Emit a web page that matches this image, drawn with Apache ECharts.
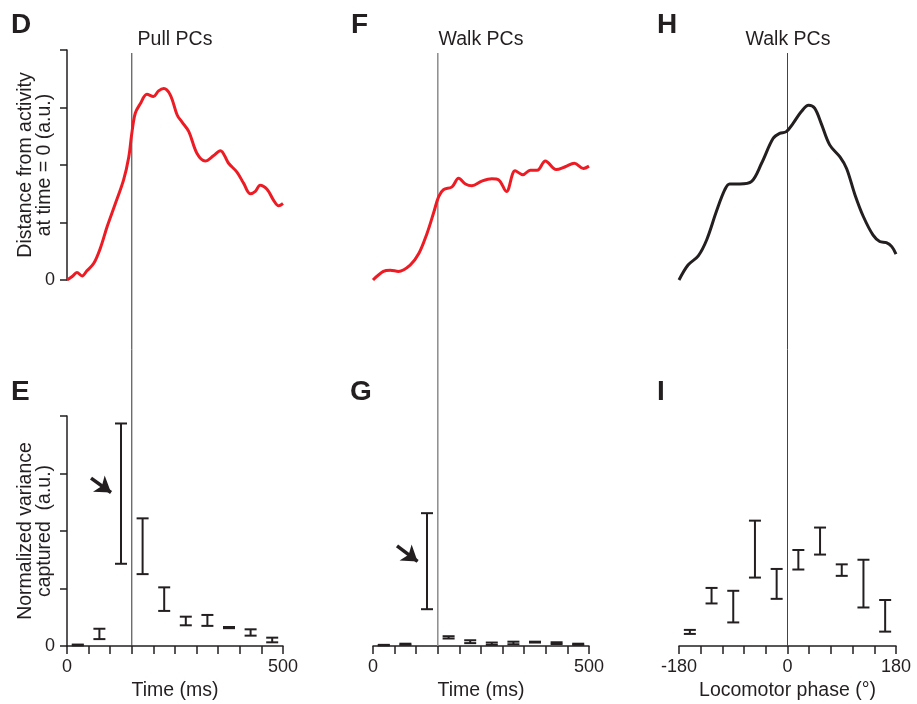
<!DOCTYPE html>
<html>
<head>
<meta charset="utf-8">
<script src="https://cdn.jsdelivr.net/npm/echarts@6/dist/echarts.min.js"></script>
<style>
  html, body { margin: 0; padding: 0; background: #fff; }
  #chart { width: 917px; height: 704px; }
</style>
</head>
<body>
<div id="chart"></div>
<script>
// D: Pull PCs, distance from activity at time = 0
const pullTime = [0,12,23,35,46,62,77,93,112,131,143,150,158,170,185,200,212,224,239,255,266,282,301,320,339,355,374,393,409,424,436,447,463,478,490,500];
const pullDist = [0,0.06,0.13,0.07,0.16,0.29,0.55,0.93,1.33,1.74,2.14,2.55,2.90,3.07,3.23,3.19,3.29,3.33,3.22,2.87,2.75,2.58,2.20,2.07,2.16,2.25,2.03,1.88,1.68,1.50,1.54,1.65,1.58,1.39,1.29,1.33];

// F: Walk PCs over time
const walkTime = [0,24,40,59,86,106,125,140,152,163,183,198,214,229,252,275,291,309,329,347,364,380,399,424,445,466,487,500];
const walkDist = [0,0.15,0.17,0.15,0.26,0.46,0.81,1.16,1.45,1.57,1.62,1.77,1.67,1.64,1.72,1.76,1.74,1.54,1.90,1.83,1.91,1.91,2.07,1.92,1.97,2.03,1.94,1.98];

// H: Walk PCs over locomotor phase
const phase = [-180,-165,-148,-134,-118,-104,-96,-79,-60,-43,-24,-13,-2,9,23,35,45,56,70,87,98,112,126,142,153,164,173,180];
const phaseDist = [0,0.26,0.42,0.70,1.19,1.57,1.67,1.67,1.71,2.03,2.46,2.55,2.58,2.72,2.93,3.04,2.99,2.72,2.35,2.14,1.94,1.48,1.10,0.78,0.67,0.65,0.58,0.45];

// E / G: variance captured per 50 ms bin (low, high)
const timeBins = [25,75,125,175,225,275,325,375,425,475];
const pullVarLow  = [0.010,0.12,1.43,1.25,0.61,0.36,0.35,0.31,0.18,0.064];
const pullVarHigh = [0.025,0.30,3.87,2.22,1.02,0.51,0.54,0.33,0.29,0.145];
const walkVarLow  = [0.010,0.020,0.64,0.13,0.05,0.02,0.03,0.06,0.035,0.02];
const walkVarHigh = [0.020,0.040,2.31,0.17,0.10,0.06,0.075,0.075,0.065,0.04];

// I: variance captured per phase bin
const phaseBins = [-162,-126,-90,-54,-18,18,54,90,126,162];
const phaseVarLow  = [0.21,0.74,0.41,1.19,0.82,1.33,1.59,1.22,0.67,0.25];
const phaseVarHigh = [0.28,1.01,0.96,2.18,1.34,1.67,2.06,1.42,1.50,0.80];

// Arrows pointing at the pre-movement bins
const arrowE = [[55.6, 2.92], [101.9, 2.67]];
const arrowG = [[55.6, 1.74], [103.2, 1.47]];

// Reference lines: movement onset (150 ms) and phase 0
const onsetTime = 150;
const phaseZero = 0;

const INK = '#231f20';
const RED = '#ed1c24';
const FONT = 'Liberation Sans, Arial, Helvetica, sans-serif';

const zip = (a, b) => a.map((v, i) => [v, b[i]]);
const zip3 = (a, b, c) => a.map((v, i) => [v, b[i], c[i]]);

function errorBar(params, api) {
  const x = api.value(0);
  const lo = api.coord([x, api.value(1)]);
  const hi = api.coord([x, api.value(2)]);
  const half = 6;
  const style = { stroke: INK, lineWidth: 2 };
  return {
    type: 'group',
    children: [
      { type: 'line', shape: { x1: lo[0], y1: lo[1], x2: hi[0], y2: hi[1] }, style },
      { type: 'line', shape: { x1: hi[0] - half, y1: hi[1], x2: hi[0] + half, y2: hi[1] }, style },
      { type: 'line', shape: { x1: lo[0] - half, y1: lo[1], x2: lo[0] + half, y2: lo[1] }, style }
    ]
  };
}

function guideLine(color, width) {
  return function (params, api) {
    const x = api.value(0);
    const a = api.coord([x, 0]);
    const b = api.coord([x, 1]);
    return { type: 'line', shape: { x1: a[0], y1: a[1], x2: b[0], y2: b[1] }, style: { stroke: color, lineWidth: width } };
  };
}

const colLeft = [67, 373, 679];
const colWidth = [216, 216, 217];

const grids = [];
for (let r = 0; r < 2; r++) {
  for (let c = 0; c < 3; c++) {
    grids.push({ left: colLeft[c], width: colWidth[c], top: r === 0 ? 50 : 416, height: 230 });
  }
}
for (let c = 0; c < 3; c++) {
  grids.push({ left: colLeft[c], width: colWidth[c], top: 53, height: 593 });
}

const hiddenX = (g, min, max) => ({ type: 'value', gridIndex: g, min, max, show: false });
const hiddenY = (g, min, max) => ({ type: 'value', gridIndex: g, min, max, show: false });

const axisLineStyle = { show: true, lineStyle: { color: INK, width: 1.5 } };
const tickStyle = (len) => ({ show: true, length: len, lineStyle: { color: INK, width: 1.5 } });
const labelStyle = { color: INK, fontSize: 18, fontFamily: FONT };
const nameStyle = { color: INK, fontSize: 19.5, fontFamily: FONT, lineHeight: 19 };

function shownX(g, min, max, interval, shownLabels, name) {
  return {
    type: 'value', gridIndex: g, min, max, interval,
    axisLine: axisLineStyle, axisTick: tickStyle(8), splitLine: { show: false },
    axisLabel: Object.assign({ margin: 12, formatter: v => shownLabels.includes(v) ? String(v) : '' }, labelStyle),
    name, nameLocation: 'middle', nameGap: 35, nameTextStyle: nameStyle
  };
}

function shownY(g, name) {
  return {
    type: 'value', gridIndex: g, min: 0, max: 4, interval: 1,
    axisLine: axisLineStyle, axisTick: tickStyle(7), splitLine: { show: false },
    axisLabel: Object.assign({ margin: 12, formatter: v => v === 0 ? '0' : '' }, labelStyle),
    name, nameLocation: 'middle', nameGap: 13, nameRotate: 90, nameMoveOverlap: false,
    nameTextStyle: nameStyle
  };
}

const xAxes = [
  hiddenX(0, 0, 500),
  hiddenX(1, 0, 500),
  hiddenX(2, -180, 180),
  shownX(3, 0, 500, 50, [0, 500], 'Time (ms)'),
  shownX(4, 0, 500, 50, [0, 500], 'Time (ms)'),
  shownX(5, -180, 180, 36, [-180, 0, 180], 'Locomotor phase (°)'),
  hiddenX(6, 0, 500),
  hiddenX(7, 0, 500),
  hiddenX(8, -180, 180)
];

const yAxes = [
  shownY(0, 'Distance from activity\nat time = 0 (a.u.)'),
  hiddenY(1, 0, 4),
  hiddenY(2, 0, 4),
  shownY(3, 'Normalized variance\ncaptured  (a.u.)'),
  hiddenY(4, 0, 4),
  hiddenY(5, 0, 4),
  hiddenY(6, 0, 1),
  hiddenY(7, 0, 1),
  hiddenY(8, 0, 1)
];

const curve = (idx, data, color) => ({
  type: 'line', xAxisIndex: idx, yAxisIndex: idx, data, smooth: 0.35,
  showSymbol: false, lineStyle: { color, width: 3 }, z: 5, silent: true
});

const bars = (idx, data) => ({
  type: 'custom', xAxisIndex: idx, yAxisIndex: idx, data, renderItem: errorBar, z: 5, silent: true
});

const guide = (idx, x, color, width) => ({
  type: 'custom', xAxisIndex: idx, yAxisIndex: idx, data: [[x]], renderItem: guideLine(color, width), z: 1, silent: true
});

const arrow = (idx, pts) => ({
  type: 'lines', coordinateSystem: 'cartesian2d', xAxisIndex: idx, yAxisIndex: idx,
  data: [{ coords: pts }], symbol: ['none', 'arrow'], symbolSize: [0, 15],
  lineStyle: { color: INK, width: 3.5, opacity: 1 }, z: 6, silent: true
});

const titles = [
  { text: 'Pull PCs', left: 175, top: 30 },
  { text: 'Walk PCs', left: 481, top: 30 },
  { text: 'Walk PCs', left: 788, top: 30 }
].map(t => Object.assign({ textAlign: 'center', padding: 0, textStyle: { color: INK, fontSize: 19.5, fontWeight: 'normal', fontFamily: FONT } }, t));

const letters = [
  ['D', 11, 11], ['F', 351, 11], ['H', 657, 11],
  ['E', 11, 378], ['G', 350, 378], ['I', 657, 378]
].map(([text, left, top]) => ({ text, left, top, padding: 0, textStyle: { color: INK, fontSize: 28, fontWeight: 'bold', fontFamily: FONT } }));

const option = {
  animation: false,
  backgroundColor: '#fff',
  title: titles.concat(letters),
  grid: grids,
  xAxis: xAxes,
  yAxis: yAxes,
  series: [
    guide(6, onsetTime, '#333333', 1),
    guide(7, onsetTime, '#8c8c8c', 1.5),
    guide(8, phaseZero, '#444444', 1),
    curve(0, zip(pullTime, pullDist), RED),
    curve(1, zip(walkTime, walkDist), RED),
    curve(2, zip(phase, phaseDist), INK),
    bars(3, zip3(timeBins, pullVarLow, pullVarHigh)),
    bars(4, zip3(timeBins, walkVarLow, walkVarHigh)),
    bars(5, zip3(phaseBins, phaseVarLow, phaseVarHigh)),
    arrow(3, arrowE),
    arrow(4, arrowG)
  ]
};

const chart = echarts.init(document.getElementById('chart'), null, { renderer: 'canvas' });
chart.setOption(option);
</script>
</body>
</html>
